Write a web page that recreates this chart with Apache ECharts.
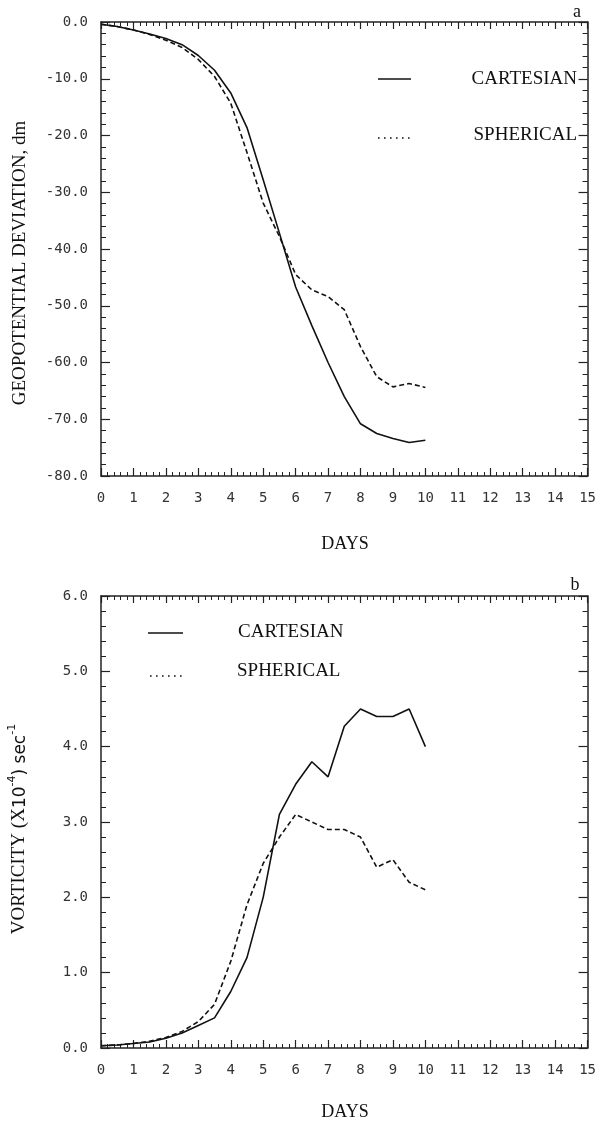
<!DOCTYPE html>
<html>
<head>
<meta charset="utf-8">
<script src="https://cdn.jsdelivr.net/npm/echarts@6/dist/echarts.min.js"></script>
<style>html,body{margin:0;padding:0;background:#fff}#c{width:599px;height:1128px}</style>
</head>
<body>
<div id="c"></div>
<script>
// ---- data ----
const days = [0,0.5,1,1.5,2,2.5,3,3.5,4,4.5,5,5.5,6,6.5,7,7.5,8,8.5,9,9.5,10];
const geoCartesian = [-0.4,-0.8,-1.4,-2.1,-2.9,-4.0,-5.9,-8.5,-12.5,-18.6,-27.8,-37.2,-46.7,-53.5,-60.0,-66.0,-70.8,-72.5,-73.4,-74.1,-73.7];
const geoSpherical = [-0.4,-0.8,-1.4,-2.2,-3.2,-4.5,-6.6,-9.6,-14.3,-23.0,-31.9,-37.8,-44.5,-47.2,-48.4,-50.7,-57.2,-62.5,-64.3,-63.7,-64.4];
const vorCartesian = [0.03,0.04,0.06,0.08,0.13,0.2,0.3,0.4,0.75,1.2,2.0,3.1,3.5,3.8,3.6,4.27,4.5,4.4,4.4,4.5,4.0];
const vorSpherical = [0.03,0.04,0.06,0.09,0.14,0.22,0.35,0.58,1.15,1.9,2.45,2.8,3.1,3.0,2.9,2.9,2.8,2.4,2.5,2.2,2.1];
const seriesNames = ['CARTESIAN','SPHERICAL'];
const xTitle = 'DAYS';
const geoTitle = 'GEOPOTENTIAL DEVIATION, dm';
const panelLetters = ['a','b'];

const toPairs = arr => days.map((d,i)=>[d,arr[i]]);
const mono = 'DejaVu Sans Mono';
const serif = 'Liberation Serif';
const axisColor = '#222';

function xAx(gridIndex, pos){
  return {
    type:'value', gridIndex, position:pos, min:0, max:15, interval:1,
    axisLine:{show:true,onZero:false,lineStyle:{color:axisColor,width:1.5}},
    axisTick:{show:true,inside:true,length:pos==='bottom'?8:7,lineStyle:{color:axisColor,width:1.2}},
    minorTick:{show:true,splitNumber:5,length:4,lineStyle:{color:axisColor,width:1}},
    splitLine:{show:false},
    axisLabel:{show:pos==='bottom',margin:15,fontFamily:mono,fontSize:14,color:'#333'}
  };
}
function yAx(gridIndex,pos,min,max,interval){
  return {
    type:'value', gridIndex, position:pos, min, max, interval,
    axisLine:{show:true,onZero:false,lineStyle:{color:axisColor,width:1.5}},
    axisTick:{show:true,inside:true,length:9,lineStyle:{color:axisColor,width:1.2}},
    minorTick:{show:true,splitNumber:5,length:5,lineStyle:{color:axisColor,width:1}},
    splitLine:{show:false},
    axisLabel:{show:pos==='left',margin:13,fontFamily:mono,fontSize:14,color:'#333',
      formatter:v=>v.toFixed(1)}
  };
}
function lineSeries(name,data,xi,yi,dashed){
  return {name,type:'line',xAxisIndex:xi,yAxisIndex:yi,data:toPairs(data),
    showSymbol:false,symbol:'none',smooth:false,silent:true,
    lineStyle:{color:'#111',width:1.6,type:dashed?[5,3]:'solid'}};
}

const chart = echarts.init(document.getElementById('c'),null,{renderer:'canvas'});
const titleFont = '19px "'+serif+'"';
chart.setOption({
  animation:false,
  backgroundColor:'#fff',
  grid:[
    {left:101,top:22,width:488,height:454},
    {left:101,top:596,width:488,height:452}
  ],
  xAxis:[xAx(0,'bottom'),xAx(0,'top'),xAx(1,'bottom'),xAx(1,'top')],
  yAxis:[yAx(0,'left',-80,0,10),yAx(0,'right',-80,0,10),yAx(1,'left',0,6,1),yAx(1,'right',0,6,1)],
  series:[
    lineSeries(seriesNames[0],geoCartesian,0,0,false),
    lineSeries(seriesNames[1],geoSpherical,0,0,true),
    lineSeries(seriesNames[0],vorCartesian,2,2,false),
    lineSeries(seriesNames[1],vorSpherical,2,2,true)
  ],
  graphic:[
    {type:'text',x:577,y:12,style:{text:panelLetters[0],font:'18px "'+serif+'"',fill:'#111',align:'center',verticalAlign:'middle'}},
    {type:'text',x:575,y:585,style:{text:panelLetters[1],font:'18px "'+serif+'"',fill:'#111',align:'center',verticalAlign:'middle'}},
    {type:'text',x:345,y:544,style:{text:xTitle,font:'18px "'+serif+'"',fill:'#111',align:'center',verticalAlign:'middle'}},
    {type:'text',x:345,y:1112,style:{text:xTitle,font:'18px "'+serif+'"',fill:'#111',align:'center',verticalAlign:'middle'}},
    {type:'text',x:20,y:263,rotation:Math.PI/2,style:{text:geoTitle,font:titleFont,fill:'#111',align:'center',verticalAlign:'middle'}},
    {type:'text',x:18,y:829,rotation:Math.PI/2,style:{
      text:'{s|VORTICITY (X}{n|10}{p|-4}{n|) sec}{p|-1}',
      align:'center',verticalAlign:'middle',fill:'#111',
      rich:{
        s:{fontFamily:serif,fontSize:19,fill:'#111',verticalAlign:'bottom',lineHeight:22},
        n:{fontFamily:'DejaVu Sans',fontSize:17,fill:'#111',verticalAlign:'bottom',lineHeight:22},
        p:{fontFamily:'DejaVu Sans',fontSize:11,fill:'#111',verticalAlign:'top',lineHeight:22}
      }}},
    {type:'line',shape:{x1:378,y1:79,x2:411,y2:79},style:{stroke:'#111',lineWidth:1.5}},
    {type:'text',x:577,y:79,style:{text:seriesNames[0],font:titleFont,fill:'#111',align:'right',verticalAlign:'middle'}},
    {type:'line',shape:{x1:378,y1:138,x2:414,y2:138},style:{stroke:'#111',lineWidth:1.6,lineDash:[1.6,4.4]}},
    {type:'text',x:577,y:135,style:{text:seriesNames[1],font:titleFont,fill:'#111',align:'right',verticalAlign:'middle'}},
    {type:'line',shape:{x1:148,y1:633,x2:183,y2:633},style:{stroke:'#111',lineWidth:1.5}},
    {type:'text',x:238,y:632,style:{text:seriesNames[0],font:titleFont,fill:'#111',align:'left',verticalAlign:'middle'}},
    {type:'line',shape:{x1:150,y1:676,x2:186,y2:676},style:{stroke:'#111',lineWidth:1.6,lineDash:[1.6,4.4]}},
    {type:'text',x:237,y:671,style:{text:seriesNames[1],font:titleFont,fill:'#111',align:'left',verticalAlign:'middle'}}
  ]
});
</script>
</body>
</html>
